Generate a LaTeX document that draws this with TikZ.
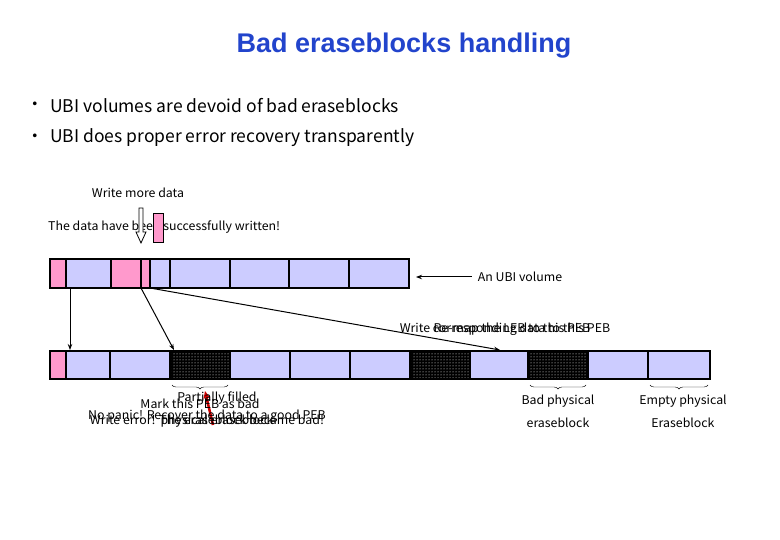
\documentclass[tikz,border=0pt]{standalone}
\usepackage{fontspec}
\setmainfont{Liberation Sans}
\newfontfamily\jp{Noto Sans CJK JP}
\usetikzlibrary{patterns,decorations.pathreplacing,arrows.meta}
\definecolor{cblue}{RGB}{204,204,255}
\definecolor{cpink}{RGB}{255,153,204}
\definecolor{ttl}{RGB}{34,68,204}
\begin{document}
\begin{tikzpicture}[x=1pt,y=-1pt,
 lbl/.style={font=\jp\fontsize{12}{13}\selectfont,inner sep=0pt,xscale=1.03},
 big/.style={font=\jp\fontsize{17.5}{19}\selectfont,inner sep=0pt,anchor=west},
 cellb/.style={fill=cblue,draw=black,line width=2.5pt},
 cellp/.style={fill=cpink,draw=black,line width=2.5pt},
 celld/.style={fill=black,draw=black,line width=2.5pt},
 arr/.style={-{Stealth[length=6pt]},line width=1pt}]
\useasboundingbox (0,0) rectangle (780,540);
\node[font=\bfseries\fontsize{27}{30}\selectfont,text=ttl] (title) at (404,46) {Bad eraseblocks handling};
\node[big] (d1b) at (26,106) {・};
\node[big] (b1) at (50,106) {UBI volumes are devoid of bad eraseblocks};
\node[big] (d2b) at (26,138) {・};
\node[big] (b2) at (50,138) {UBI does proper error recovery transparently};
\node[lbl] (wm) at (138,193) {Write more data};
\node[lbl,anchor=west] (succ) at (48,227) {The data have been successfully written!};
% falling block and hollow arrow
\draw[fill=cpink,line width=0.6pt] (153,213) rectangle (163,242);
\draw[line width=0.8pt,fill=white] (139,208) -- (143,208) -- (143,232) -- (146,232) -- (141,243) -- (136,232) -- (139,232) -- cycle;
% top bar
\foreach \a/\b/\s in {50/66/cellp,66/111/cellb,111/141/cellp,141/150/cellp,150/170/cellb,170/230/cellb,230/289/cellb,289/349/cellb,349/409/cellb}
  \draw[\s] (\a,259) rectangle (\b,288);
\coordinate (t1) at (70,288);\coordinate (t2) at (141,288);\coordinate (t3) at (150,288);
\node[lbl] (ubi) at (520,277) {An UBI volume};
\coordinate (ua) at (416,277);
\draw[arr] (ubi.west)++(-6,0) -- (ua);
% bottom bar
\foreach \a/\b/\s in {50/66/cellp,66/110/cellb,110/170/cellb,230/290/cellb,290/350/cellb,350/410/cellb,470/528/cellb,588/648/cellb,648/710/cellb}
  \draw[\s] (\a,351) rectangle (\b,379);
\foreach \a/\b in {170/230,410/470,528/588}{
  \draw[celld] (\a,351) rectangle (\b,379);
  \fill[pattern=dots,pattern color=white] (\a+1.5,352.5) rectangle (\b-1.5,377.5);}
\coordinate (d1) at (70,350);\coordinate (d2) at (174,350);\coordinate (d3) at (500,350);
\draw[arr] (t1) -- (d1);
\draw[arr] (t2) -- (d2);
\draw[arr] (t3) -- (d3);
% labels above bottom bar (overlapping as in the original)
\node[lbl] (w1) at (505,329) {Write corresponding data to this PEB};
\node[lbl] (w2) at (512,329) {Re-map the LEB to this PEB};
% braces
\foreach \a/\b in {172/228,530/586,650/708}
  \draw[decorate,decoration={brace,mirror,amplitude=4pt},line width=0.4pt] (\a,385) -- (\b,385);
% red arrow
\coordinate (ra) at (205,391);\coordinate (rb) at (213,425);
\draw[-{Stealth[length=8pt,width=7pt]},red!80!black,line width=2.5pt] (rb) -- (ra);
\node[lbl] (p1) at (217,398) {Partially filled};
\node[lbl] (p2) at (217,421) {physical eraseblock};
\node[lbl] (mk) at (200,404) {Mark this PEB as bad};
\node[lbl] (np) at (207,416) {No panic! Recover the data to a good PEB};
\node[lbl] (we) at (207,420) {Write error! The eraseblock became bad!};
\node[lbl] (bp1) at (558,401) {Bad physical};
\node[lbl] (bp2) at (558,423) {eraseblock};
\node[lbl] (ep1) at (683,401) {Empty physical};
\node[lbl] (ep2) at (683,423) {Eraseblock};
\end{tikzpicture}
\end{document}
